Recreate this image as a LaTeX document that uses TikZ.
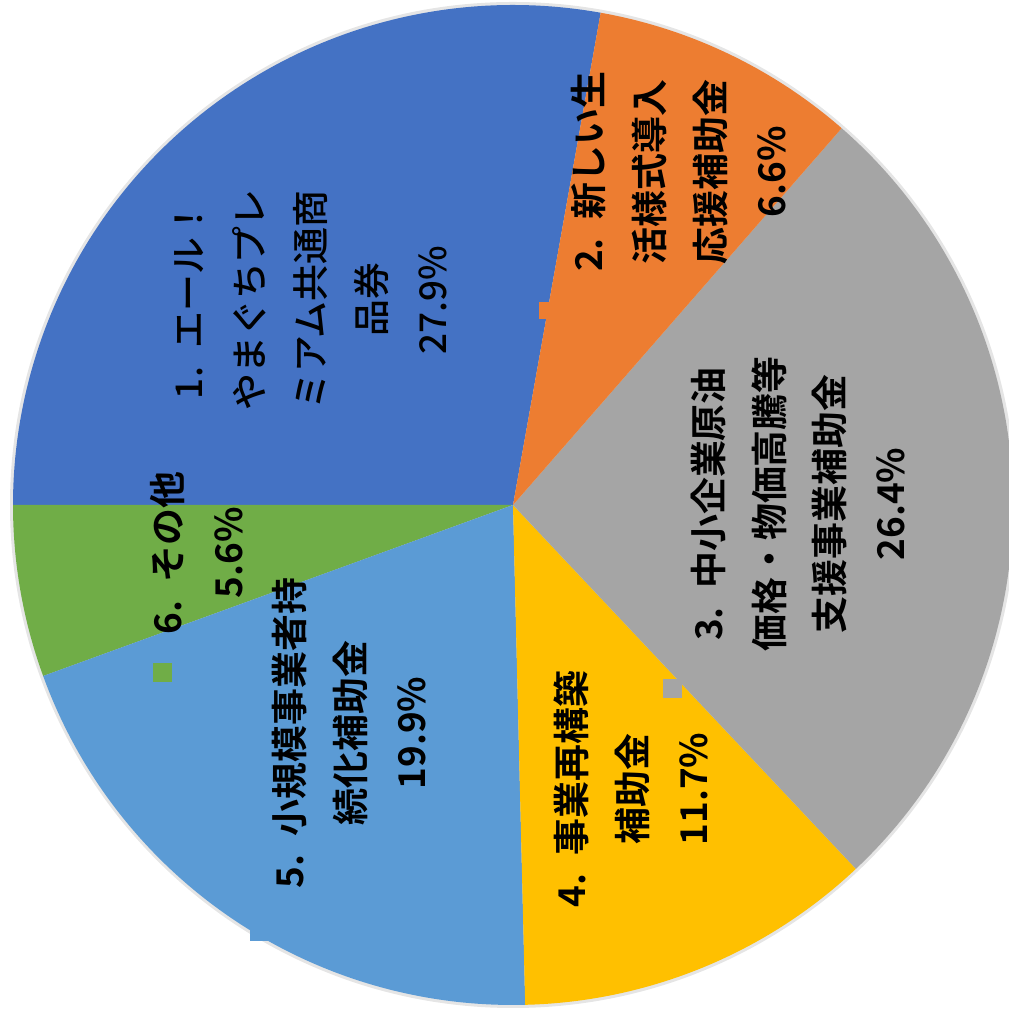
\documentclass[tikz,border=0pt]{standalone}
\usepackage{fontspec}
\setmainfont{Noto Sans CJK JP}[BoldFont={Noto Sans CJK JP Bold}]
\newfontfamily\jpmedium{Noto Sans CJK JP Medium}
\usetikzlibrary{positioning}
\definecolor{pieblue}{HTML}{4472C4}
\definecolor{pieorange}{HTML}{ED7D31}
\definecolor{piegray}{HTML}{A5A5A5}
\definecolor{pieyellow}{HTML}{FFC000}
\definecolor{pielight}{HTML}{5B9BD5}
\definecolor{piegreen}{HTML}{70AD47}
\tikzset{
    %slice labels, turned to read upwards
    lbl/.style={rotate=90, align=center, inner sep=0pt,
                font=\bfseries\fontsize{21}{34.7}\selectfont},
    key/.style={minimum size=0.38cm, inner sep=0pt},
}

\begin{document}
\begin{tikzpicture}[x=0.02cm, y=0.02cm]
    \useasboundingbox (0,0) rectangle (1008,1010);
    \coordinate (c) at (513,505);

    % soft rim
    \fill[black!10] (c) circle (503);

    % slices
    \foreach \a/\b/\col in {79.9/180/pieblue, 180/200/piegreen,
                            200/271.4/pielight, 271.4/313.3/pieyellow,
                            -46.7/48.9/piegray, 48.9/79.9/pieorange}
        \fill[\col] (c) -- ++(\a:500) arc[start angle=\a, end angle=\b, radius=500] -- cycle;

    % legend keys
    \node[key, fill=pieorange, minimum size=0.34cm] (korange) at (547,699) {};
    \node[key, fill=piegray] (kgray) at (672,321) {};
    \node[key, fill=piegreen] (kgreen) at (162,337) {};
    \node[key, fill=pielight, minimum size=0.36cm] (klight) at (259,78) {};

    \node[lbl, font=\jpmedium\fontsize{21}{34.7}\selectfont] (yamaguchi) at (311,710) {1.\enspace エール！\\やまぐちプレ\\ミアム共通商\\品券\\27.9\%};
    \node[lbl] (seikatsu) at (679,838) {2.\enspace 新しい生\\活様式導入\\応援補助金\\6.6\%};
    \node[lbl] (genyu) at (798,506) {3.\enspace 中小企業原油\\価格・物価高騰等\\支援事業補助金\\26.4\%};
    \node[lbl] (saikouchiku) at (631,221) {4.\enspace 事業再構築\\補助金\\11.7\%};
    \node[lbl] (jizokuka) at (349,277) {5.\enspace 小規模事業者持\\続化補助金\\19.9\%};
    \node[lbl] (sonota) at (197,457) {6.\enspace その他\\5.6\%};

\end{tikzpicture}
\end{document}
